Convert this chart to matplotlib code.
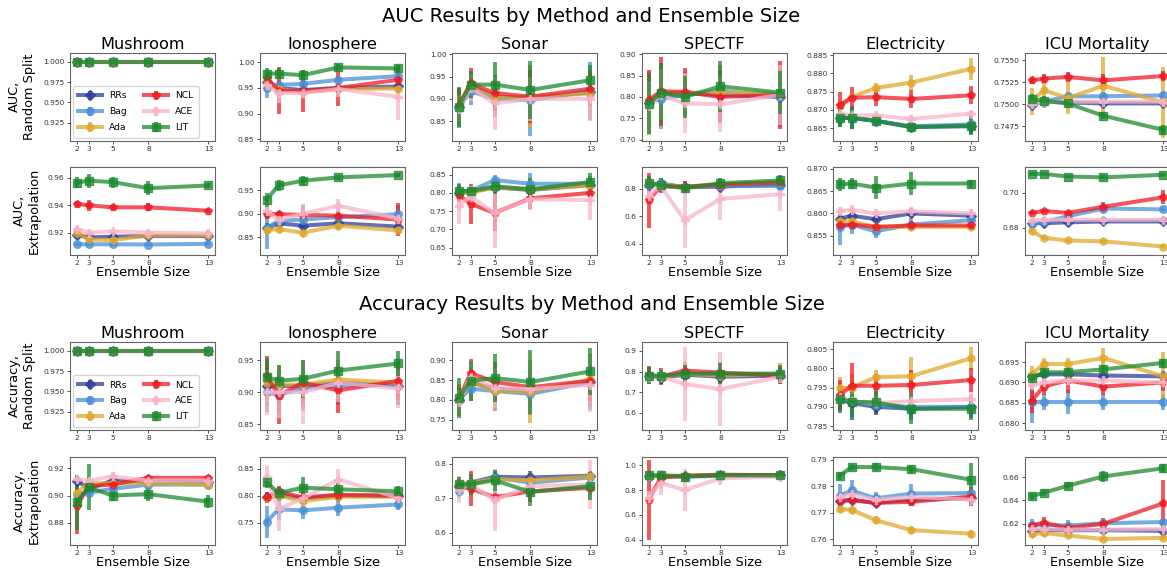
import matplotlib
matplotlib.use("Agg")
import matplotlib.pyplot as plt

# ensemble sizes and method order
sizes = [2, 3, 5, 8, 13]
methods = ['RRs', 'Bag', 'Ada', 'NCL', 'ACE', 'LIT']
datasets = ['Mushroom', 'Ionosphere', 'Sonar', 'SPECTF', 'Electricity', 'ICU Mortality']

# ---- AUC, random split (rows: RRs, Bag, Ada, NCL, ACE, LIT) ----
auc_rand_mushroom = [[1.0, 1.0, 1.0, 1.0, 1.0]] * 6
auc_rand_mushroom_err = [[0.0, 0.0, 0.0, 0.0, 0.0]] * 6
auc_rand_iono = [[0.962, 0.950, 0.946, 0.950, 0.953],
                 [0.950, 0.956, 0.958, 0.966, 0.973],
                 [0.960, 0.948, 0.942, 0.948, 0.949],
                 [0.970, 0.945, 0.944, 0.950, 0.966],
                 [0.955, 0.940, 0.940, 0.948, 0.933],
                 [0.978, 0.978, 0.975, 0.990, 0.988]]
auc_rand_iono_err = [[0.006, 0.008, 0.006, 0.006, 0.006],
                     [0.020, 0.010, 0.008, 0.006, 0.008],
                     [0.008, 0.008, 0.008, 0.008, 0.010],
                     [0.010, 0.045, 0.040, 0.035, 0.020],
                     [0.010, 0.020, 0.010, 0.015, 0.045],
                     [0.010, 0.010, 0.010, 0.006, 0.006]]
auc_rand_sonar = [[0.882, 0.930, 0.905, 0.902, 0.915],
                  [0.880, 0.917, 0.900, 0.897, 0.918],
                  [0.882, 0.928, 0.903, 0.905, 0.912],
                  [0.885, 0.935, 0.913, 0.905, 0.923],
                  [0.878, 0.925, 0.890, 0.900, 0.900],
                  [0.882, 0.932, 0.932, 0.920, 0.942]]
auc_rand_sonar_err = [[0.040, 0.030, 0.040, 0.060, 0.050],
                      [0.045, 0.030, 0.040, 0.080, 0.065],
                      [0.040, 0.030, 0.040, 0.070, 0.050],
                      [0.040, 0.035, 0.040, 0.060, 0.040],
                      [0.030, 0.030, 0.060, 0.050, 0.050],
                      [0.045, 0.030, 0.050, 0.065, 0.035]]
auc_rand_spectf = [[0.785, 0.808, 0.808, 0.805, 0.800],
                   [0.788, 0.795, 0.805, 0.815, 0.800],
                   [0.785, 0.810, 0.810, 0.810, 0.808],
                   [0.793, 0.813, 0.812, 0.800, 0.805],
                   [0.778, 0.805, 0.785, 0.783, 0.805],
                   [0.783, 0.810, 0.800, 0.825, 0.810]]
auc_rand_spectf_err = [[0.070, 0.070, 0.050, 0.060, 0.060],
                       [0.070, 0.070, 0.050, 0.060, 0.070],
                       [0.075, 0.070, 0.050, 0.060, 0.060],
                       [0.070, 0.080, 0.055, 0.060, 0.080],
                       [0.060, 0.060, 0.070, 0.065, 0.070],
                       [0.070, 0.070, 0.050, 0.060, 0.050]]
auc_rand_elec = [[0.8678, 0.8678, 0.8670, 0.8653, 0.8655],
                 [0.8678, 0.8680, 0.8670, 0.8655, 0.8660],
                 [0.8710, 0.8735, 0.8760, 0.8775, 0.8813],
                 [0.8713, 0.8733, 0.8735, 0.8730, 0.8740],
                 [0.8690, 0.8685, 0.8685, 0.8675, 0.8690],
                 [0.8678, 0.8678, 0.8670, 0.8653, 0.8657]]
auc_rand_elec_err = [[0.0025, 0.0030, 0.0015, 0.0015, 0.0020],
                     [0.0025, 0.0030, 0.0015, 0.0015, 0.0020],
                     [0.0010, 0.0012, 0.0015, 0.0020, 0.0030],
                     [0.0035, 0.0030, 0.0025, 0.0025, 0.0025],
                     [0.0010, 0.0010, 0.0010, 0.0010, 0.0010],
                     [0.0025, 0.0030, 0.0015, 0.0015, 0.0025]]
auc_rand_icu = [[0.7499, 0.7503, 0.7502, 0.7501, 0.7501],
                [0.7500, 0.7503, 0.7509, 0.7509, 0.7510],
                [0.7503, 0.7516, 0.7507, 0.7521, 0.7502],
                [0.7527, 0.7529, 0.7531, 0.7527, 0.7532],
                [0.7500, 0.7502, 0.7503, 0.7503, 0.7503],
                [0.7506, 0.7504, 0.7501, 0.7487, 0.7471]]
auc_rand_icu_err = [[0.0003, 0.0003, 0.0003, 0.0003, 0.0003],
                    [0.0004, 0.0004, 0.0004, 0.0005, 0.0005],
                    [0.0015, 0.0010, 0.0018, 0.0033, 0.0040],
                    [0.0004, 0.0005, 0.0006, 0.0007, 0.0006],
                    [0.0003, 0.0003, 0.0003, 0.0003, 0.0003],
                    [0.0006, 0.0005, 0.0004, 0.0004, 0.0005]]

# ---- AUC, extrapolation ----
auc_extr_mushroom = [[0.9185, 0.9165, 0.9170, 0.9175, 0.9175],
                     [0.9115, 0.9115, 0.9115, 0.9113, 0.9118],
                     [0.9200, 0.9150, 0.9145, 0.9180, 0.9180],
                     [0.9410, 0.9400, 0.9385, 0.9385, 0.9360],
                     [0.9225, 0.9200, 0.9210, 0.9200, 0.9195],
                     [0.9565, 0.9580, 0.9570, 0.9525, 0.9545]]
auc_extr_mushroom_err = [[0.0015, 0.0020, 0.0020, 0.0020, 0.0020],
                         [0.0010, 0.0010, 0.0010, 0.0010, 0.0010],
                         [0.0050, 0.0030, 0.0030, 0.0030, 0.0040],
                         [0.0020, 0.0040, 0.0020, 0.0030, 0.0015],
                         [0.0020, 0.0020, 0.0020, 0.0020, 0.0020],
                         [0.0040, 0.0050, 0.0040, 0.0050, 0.0020]]
auc_extr_iono = [[0.870, 0.880, 0.875, 0.880, 0.873],
                 [0.870, 0.885, 0.888, 0.893, 0.899],
                 [0.865, 0.868, 0.860, 0.875, 0.865],
                 [0.900, 0.899, 0.898, 0.896, 0.888],
                 [0.905, 0.888, 0.900, 0.917, 0.890],
                 [0.930, 0.960, 0.970, 0.977, 0.982]]
auc_extr_iono_err = [[0.010, 0.008, 0.010, 0.010, 0.008],
                     [0.045, 0.020, 0.030, 0.010, 0.020],
                     [0.010, 0.008, 0.010, 0.010, 0.010],
                     [0.010, 0.008, 0.010, 0.010, 0.035],
                     [0.010, 0.010, 0.020, 0.015, 0.010],
                     [0.015, 0.012, 0.010, 0.006, 0.004]]
auc_extr_sonar = [[0.800, 0.803, 0.815, 0.808, 0.822],
                  [0.803, 0.805, 0.835, 0.825, 0.825],
                  [0.800, 0.800, 0.815, 0.810, 0.820],
                  [0.795, 0.770, 0.745, 0.785, 0.800],
                  [0.765, 0.790, 0.745, 0.783, 0.780],
                  [0.805, 0.805, 0.818, 0.810, 0.830]]
auc_extr_sonar_err = [[0.020, 0.010, 0.020, 0.030, 0.020],
                      [0.025, 0.010, 0.015, 0.030, 0.020],
                      [0.020, 0.010, 0.020, 0.030, 0.020],
                      [0.020, 0.055, 0.050, 0.030, 0.015],
                      [0.050, 0.030, 0.095, 0.030, 0.055],
                      [0.020, 0.010, 0.020, 0.030, 0.025]]
auc_extr_spectf = [[0.830, 0.835, 0.810, 0.815, 0.830],
                   [0.830, 0.840, 0.810, 0.820, 0.820],
                   [0.840, 0.830, 0.815, 0.830, 0.850],
                   [0.715, 0.815, 0.815, 0.830, 0.845],
                   [0.750, 0.820, 0.570, 0.725, 0.760],
                   [0.840, 0.825, 0.805, 0.840, 0.860]]
auc_extr_spectf_err = [[0.050, 0.040, 0.040, 0.040, 0.040],
                       [0.050, 0.040, 0.040, 0.040, 0.040],
                       [0.050, 0.040, 0.040, 0.040, 0.040],
                       [0.200, 0.050, 0.040, 0.030, 0.050],
                       [0.050, 0.030, 0.200, 0.150, 0.120],
                       [0.050, 0.050, 0.040, 0.040, 0.040]]
auc_extr_elec = [[0.8588, 0.8595, 0.8587, 0.8600, 0.8595],
                 [0.8570, 0.8575, 0.8560, 0.8575, 0.8585],
                 [0.8582, 0.8582, 0.8570, 0.8570, 0.8570],
                 [0.8573, 0.8575, 0.8570, 0.8573, 0.8573],
                 [0.8605, 0.8608, 0.8600, 0.8605, 0.8600],
                 [0.8665, 0.8667, 0.8658, 0.8667, 0.8667]]
auc_extr_elec_err = [[0.0007, 0.0007, 0.0007, 0.0007, 0.0007],
                     [0.0040, 0.0020, 0.0015, 0.0015, 0.0010],
                     [0.0007, 0.0007, 0.0007, 0.0007, 0.0007],
                     [0.0007, 0.0007, 0.0007, 0.0007, 0.0007],
                     [0.0010, 0.0010, 0.0010, 0.0010, 0.0010],
                     [0.0015, 0.0013, 0.0025, 0.0025, 0.0009]]
auc_extr_icu = [[0.6825, 0.6825, 0.6830, 0.6835, 0.6835],
                [0.6820, 0.6830, 0.6865, 0.6910, 0.6905],
                [0.6780, 0.6740, 0.6725, 0.6720, 0.6690],
                [0.6885, 0.6895, 0.6885, 0.6920, 0.6975],
                [0.6840, 0.6845, 0.6845, 0.6845, 0.6845],
                [0.7110, 0.7110, 0.7095, 0.7090, 0.7105]]
auc_extr_icu_err = [[0.0005, 0.0005, 0.0005, 0.0005, 0.0005],
                    [0.0030, 0.0030, 0.0010, 0.0010, 0.0010],
                    [0.0010, 0.0010, 0.0010, 0.0010, 0.0010],
                    [0.0008, 0.0008, 0.0008, 0.0030, 0.0040],
                    [0.0005, 0.0005, 0.0005, 0.0005, 0.0005],
                    [0.0005, 0.0005, 0.0005, 0.0012, 0.0005]]

# ---- Accuracy, random split ----
acc_rand_mushroom = [[1.0, 1.0, 1.0, 1.0, 1.0]] * 6
acc_rand_mushroom_err = [[0.0, 0.0, 0.0, 0.0, 0.0]] * 6
acc_rand_iono = [[0.910, 0.910, 0.910, 0.915, 0.910],
                 [0.900, 0.896, 0.906, 0.910, 0.912],
                 [0.915, 0.912, 0.912, 0.920, 0.915],
                 [0.926, 0.895, 0.915, 0.903, 0.918],
                 [0.900, 0.900, 0.900, 0.915, 0.906],
                 [0.924, 0.918, 0.921, 0.934, 0.945]]
acc_rand_iono_err = [[0.030, 0.030, 0.035, 0.030, 0.030],
                     [0.030, 0.030, 0.035, 0.030, 0.030],
                     [0.030, 0.030, 0.035, 0.030, 0.030],
                     [0.030, 0.045, 0.035, 0.035, 0.030],
                     [0.035, 0.040, 0.050, 0.030, 0.030],
                     [0.030, 0.025, 0.030, 0.030, 0.020]]
acc_rand_sonar = [[0.800, 0.845, 0.828, 0.822, 0.845],
                  [0.800, 0.828, 0.822, 0.815, 0.845],
                  [0.800, 0.845, 0.823, 0.820, 0.852],
                  [0.800, 0.868, 0.845, 0.832, 0.848],
                  [0.795, 0.858, 0.830, 0.827, 0.838],
                  [0.805, 0.848, 0.855, 0.845, 0.872]]
acc_rand_sonar_err = [[0.040, 0.040, 0.050, 0.060, 0.060],
                      [0.030, 0.030, 0.050, 0.050, 0.070],
                      [0.040, 0.040, 0.050, 0.080, 0.060],
                      [0.030, 0.035, 0.050, 0.050, 0.050],
                      [0.030, 0.040, 0.050, 0.060, 0.070],
                      [0.050, 0.050, 0.060, 0.080, 0.060]]
acc_rand_spectf = [[0.780, 0.770, 0.785, 0.775, 0.780],
                   [0.780, 0.775, 0.790, 0.785, 0.785],
                   [0.780, 0.775, 0.790, 0.780, 0.790],
                   [0.785, 0.775, 0.805, 0.795, 0.780],
                   [0.775, 0.775, 0.740, 0.715, 0.775],
                   [0.780, 0.778, 0.790, 0.790, 0.790]]
acc_rand_spectf_err = [[0.040, 0.030, 0.040, 0.050, 0.040],
                       [0.040, 0.030, 0.040, 0.050, 0.040],
                       [0.040, 0.030, 0.040, 0.050, 0.050],
                       [0.040, 0.040, 0.040, 0.050, 0.040],
                       [0.030, 0.030, 0.180, 0.180, 0.030],
                       [0.040, 0.030, 0.040, 0.050, 0.040]]
acc_rand_elec = [[0.7920, 0.7910, 0.7900, 0.7895, 0.7900],
                 [0.7920, 0.7915, 0.7905, 0.7900, 0.7900],
                 [0.7948, 0.7950, 0.7977, 0.7980, 0.8027],
                 [0.7930, 0.7955, 0.7955, 0.7957, 0.7970],
                 [0.7925, 0.7915, 0.7910, 0.7915, 0.7920],
                 [0.7920, 0.7913, 0.7912, 0.7895, 0.7895]]
acc_rand_elec_err = [[0.0035, 0.0045, 0.0020, 0.0030, 0.0030],
                     [0.0035, 0.0045, 0.0020, 0.0030, 0.0030],
                     [0.0030, 0.0035, 0.0020, 0.0050, 0.0030],
                     [0.0040, 0.0060, 0.0030, 0.0040, 0.0030],
                     [0.0020, 0.0020, 0.0020, 0.0020, 0.0020],
                     [0.0030, 0.0040, 0.0030, 0.0040, 0.0030]]
acc_rand_icu = [[0.6915, 0.6920, 0.6920, 0.6917, 0.6915],
                [0.6852, 0.6852, 0.6852, 0.6852, 0.6852],
                [0.6920, 0.6945, 0.6945, 0.6960, 0.6915],
                [0.6855, 0.6890, 0.6905, 0.6890, 0.6900],
                [0.6895, 0.6900, 0.6905, 0.6905, 0.6900],
                [0.6910, 0.6925, 0.6925, 0.6932, 0.6948]]
acc_rand_icu_err = [[0.0010, 0.0010, 0.0010, 0.0010, 0.0010],
                    [0.0050, 0.0020, 0.0030, 0.0020, 0.0020],
                    [0.0020, 0.0015, 0.0015, 0.0025, 0.0060],
                    [0.0030, 0.0020, 0.0030, 0.0020, 0.0020],
                    [0.0010, 0.0010, 0.0010, 0.0010, 0.0010],
                    [0.0010, 0.0010, 0.0010, 0.0010, 0.0010]]

# ---- Accuracy, extrapolation ----
acc_extr_mushroom = [[0.911, 0.905, 0.911, 0.910, 0.910],
                     [0.901, 0.902, 0.905, 0.908, 0.908],
                     [0.902, 0.909, 0.909, 0.909, 0.908],
                     [0.892, 0.907, 0.908, 0.913, 0.913],
                     [0.912, 0.911, 0.914, 0.911, 0.911],
                     [0.895, 0.906, 0.900, 0.901, 0.8955]]
acc_extr_mushroom_err = [[0.003, 0.003, 0.003, 0.003, 0.003],
                         [0.003, 0.003, 0.003, 0.003, 0.003],
                         [0.004, 0.003, 0.003, 0.003, 0.003],
                         [0.020, 0.004, 0.003, 0.002, 0.002],
                         [0.003, 0.003, 0.003, 0.003, 0.003],
                         [0.020, 0.017, 0.004, 0.005, 0.005]]
acc_extr_iono = [[0.797, 0.802, 0.795, 0.800, 0.800],
                 [0.752, 0.775, 0.773, 0.778, 0.784],
                 [0.795, 0.800, 0.790, 0.798, 0.798],
                 [0.797, 0.808, 0.797, 0.802, 0.800],
                 [0.835, 0.775, 0.795, 0.830, 0.796],
                 [0.825, 0.805, 0.815, 0.812, 0.808]]
acc_extr_iono_err = [[0.008, 0.008, 0.008, 0.008, 0.008],
                     [0.030, 0.020, 0.015, 0.015, 0.010],
                     [0.008, 0.008, 0.008, 0.008, 0.008],
                     [0.010, 0.010, 0.010, 0.010, 0.010],
                     [0.020, 0.040, 0.020, 0.020, 0.010],
                     [0.010, 0.012, 0.020, 0.012, 0.010]]
acc_extr_sonar = [[0.735, 0.745, 0.762, 0.760, 0.765],
                  [0.720, 0.740, 0.760, 0.745, 0.760],
                  [0.740, 0.745, 0.755, 0.752, 0.763],
                  [0.735, 0.728, 0.703, 0.720, 0.730],
                  [0.725, 0.740, 0.695, 0.735, 0.740],
                  [0.740, 0.740, 0.752, 0.718, 0.735]]
acc_extr_sonar_err = [[0.020, 0.010, 0.020, 0.020, 0.010],
                      [0.020, 0.010, 0.020, 0.020, 0.010],
                      [0.020, 0.010, 0.020, 0.025, 0.010],
                      [0.020, 0.050, 0.020, 0.030, 0.020],
                      [0.040, 0.020, 0.090, 0.020, 0.070],
                      [0.020, 0.030, 0.030, 0.040, 0.040]]
acc_extr_spectf = [[0.915, 0.915, 0.915, 0.920, 0.920],
                   [0.910, 0.915, 0.910, 0.915, 0.920],
                   [0.915, 0.915, 0.915, 0.920, 0.920],
                   [0.720, 0.900, 0.915, 0.925, 0.920],
                   [0.740, 0.860, 0.800, 0.895, 0.910],
                   [0.920, 0.920, 0.910, 0.920, 0.920]]
acc_extr_spectf_err = [[0.020, 0.020, 0.020, 0.020, 0.020],
                       [0.020, 0.020, 0.020, 0.020, 0.020],
                       [0.020, 0.020, 0.020, 0.020, 0.020],
                       [0.320, 0.040, 0.020, 0.015, 0.010],
                       [0.050, 0.100, 0.170, 0.050, 0.020],
                       [0.020, 0.020, 0.020, 0.020, 0.020]]
acc_extr_elec = [[0.7745, 0.7750, 0.7738, 0.7750, 0.7755],
                 [0.7765, 0.7785, 0.7755, 0.7773, 0.7775],
                 [0.7715, 0.7712, 0.7673, 0.7635, 0.7622],
                 [0.7745, 0.7748, 0.7738, 0.7742, 0.7762],
                 [0.7760, 0.7770, 0.7750, 0.7760, 0.7750],
                 [0.7840, 0.7873, 0.7873, 0.7865, 0.7825]]
acc_extr_elec_err = [[0.0010, 0.0010, 0.0010, 0.0010, 0.0010],
                     [0.0045, 0.0040, 0.0025, 0.0035, 0.0010],
                     [0.0015, 0.0015, 0.0015, 0.0015, 0.0015],
                     [0.0010, 0.0010, 0.0010, 0.0010, 0.0035],
                     [0.0010, 0.0010, 0.0010, 0.0010, 0.0010],
                     [0.0015, 0.0010, 0.0015, 0.0015, 0.0065]]
acc_extr_icu = [[0.6135, 0.6145, 0.6145, 0.6145, 0.6140],
                [0.6190, 0.6190, 0.6185, 0.6205, 0.6215],
                [0.6110, 0.6120, 0.6100, 0.6070, 0.6080],
                [0.6185, 0.6210, 0.6165, 0.6200, 0.6375],
                [0.6155, 0.6155, 0.6150, 0.6150, 0.6155],
                [0.6435, 0.6465, 0.6525, 0.6605, 0.6675]]
acc_extr_icu_err = [[0.0015, 0.0015, 0.0015, 0.0015, 0.0015],
                    [0.0050, 0.0030, 0.0050, 0.0030, 0.0030],
                    [0.0020, 0.0020, 0.0010, 0.0010, 0.0010],
                    [0.0020, 0.0050, 0.0020, 0.0050, 0.0200],
                    [0.0015, 0.0015, 0.0015, 0.0015, 0.0015],
                    [0.0030, 0.0030, 0.0030, 0.0050, 0.0040]]

rows = [
    ('AUC,\nRandom Split',
     [(auc_rand_mushroom, auc_rand_mushroom_err), (auc_rand_iono, auc_rand_iono_err),
      (auc_rand_sonar, auc_rand_sonar_err), (auc_rand_spectf, auc_rand_spectf_err),
      (auc_rand_elec, auc_rand_elec_err), (auc_rand_icu, auc_rand_icu_err)]),
    ('AUC,\nExtrapolation',
     [(auc_extr_mushroom, auc_extr_mushroom_err), (auc_extr_iono, auc_extr_iono_err),
      (auc_extr_sonar, auc_extr_sonar_err), (auc_extr_spectf, auc_extr_spectf_err),
      (auc_extr_elec, auc_extr_elec_err), (auc_extr_icu, auc_extr_icu_err)]),
    ('Accuracy,\nRandom Split',
     [(acc_rand_mushroom, acc_rand_mushroom_err), (acc_rand_iono, acc_rand_iono_err),
      (acc_rand_sonar, acc_rand_sonar_err), (acc_rand_spectf, acc_rand_spectf_err),
      (acc_rand_elec, acc_rand_elec_err), (acc_rand_icu, acc_rand_icu_err)]),
    ('Accuracy,\nExtrapolation',
     [(acc_extr_mushroom, acc_extr_mushroom_err), (acc_extr_iono, acc_extr_iono_err),
      (acc_extr_sonar, acc_extr_sonar_err), (acc_extr_spectf, acc_extr_spectf_err),
      (acc_extr_elec, acc_extr_elec_err), (acc_extr_icu, acc_extr_icu_err)]),
]

# axis limits and ticks per panel (layout, not data)
ylims = [
    [(0.903, 1.011), (0.848, 1.018), (0.8065, 1.003), (0.698, 0.903), (0.8616, 0.8856), (0.7459, 0.7558)],
    [(0.904, 0.968), (0.814, 0.999), (0.631, 0.871), (0.32, 0.958), (0.8508, 0.8704), (0.6644, 0.715)],
    [(0.903, 1.011), (0.842, 0.9785), (0.7247, 0.9464), (0.519, 0.9435), (0.7841, 0.8069), (0.6785, 0.6999)],
    [(0.864, 0.9283), (0.71, 0.8716), (0.566, 0.8193), (0.36, 1.068), (0.7581, 0.7911), (0.6023, 0.6771)],
]
yticks = [
    [[0.925, 0.95, 0.975, 1.0], [0.85, 0.90, 0.95, 1.00], [0.85, 0.90, 0.95, 1.00],
     [0.70, 0.75, 0.80, 0.85, 0.90], [0.865, 0.870, 0.875, 0.880, 0.885], [0.7475, 0.75, 0.7525, 0.755]],
    [[0.92, 0.94, 0.96], [0.85, 0.90, 0.95], [0.65, 0.70, 0.75, 0.80, 0.85],
     [0.4, 0.6, 0.8], [0.855, 0.860, 0.865, 0.870], [0.68, 0.70]],
    [[0.925, 0.95, 0.975, 1.0], [0.85, 0.90, 0.95], [0.75, 0.80, 0.85, 0.90],
     [0.6, 0.7, 0.8, 0.9], [0.785, 0.790, 0.795, 0.800, 0.805], [0.680, 0.685, 0.690, 0.695]],
    [[0.88, 0.90, 0.92], [0.75, 0.80, 0.85], [0.6, 0.7, 0.8],
     [0.4, 0.6, 0.8, 1.0], [0.76, 0.77, 0.78, 0.79], [0.62, 0.64, 0.66]],
]

colors = ['#2e3f99', '#4a90d6', '#e0a82e', '#ee1c25', '#f9b5c9', '#1c8a2e']
markers = ['D', 'o', 'h', 'p', 'P', 's']

W, H = 1167, 579
col_left = [70, 260, 452, 642, 833, 1025]
row_top = [53, 167, 342, 457]
ax_w, ax_h = 145, 87.5

fig = plt.figure(figsize=(W / 100, H / 100), dpi=100)

for r, (ylabel, panels) in enumerate(rows):
    for c, (means, errs) in enumerate(panels):
        ax = fig.add_axes([col_left[c] / W, 1 - (row_top[r] + ax_h) / H, ax_w / W, ax_h / H])
        for k, name in enumerate(methods):
            ax.errorbar(sizes, means[k], yerr=errs[k], color=colors[k], marker=markers[k],
                        markersize=5.5, lw=2.9, elinewidth=2.8, capsize=0, alpha=0.75,
                        label=name)
        ax.set_xticks(sizes)
        ax.set_yticks(yticks[r][c])
        ax.set_ylim(ylims[r][c])
        ax.ticklabel_format(axis='y', useOffset=False)
        ax.tick_params(labelsize=5.4, length=2.5, width=0.6, pad=1.5, colors='0.2')
        for sp in ax.spines.values():
            sp.set_color('0.4')
        if r in (0, 2):
            ax.set_title(datasets[c], fontsize=11.6, pad=3)
        else:
            ax.set_xlabel('Ensemble Size', fontsize=9.3, labelpad=0)
        if c == 0:
            ax.set_ylabel(ylabel, fontsize=9.3, labelpad=5)
            if r in (0, 2):
                ax.legend(loc='lower left', ncol=2, fontsize=6.6, columnspacing=1.8,
                          handlelength=2.6, borderpad=0.6, labelspacing=0.75,
                          borderaxespad=0.3)

fig.text(591 / W, 1 - 16 / H, 'AUC Results by Method and Ensemble Size',
         ha='center', va='center', fontsize=14)
fig.text(592 / W, 1 - 304 / H, 'Accuracy Results by Method and Ensemble Size',
         ha='center', va='center', fontsize=14)

fig.savefig('out.png', dpi=100)
